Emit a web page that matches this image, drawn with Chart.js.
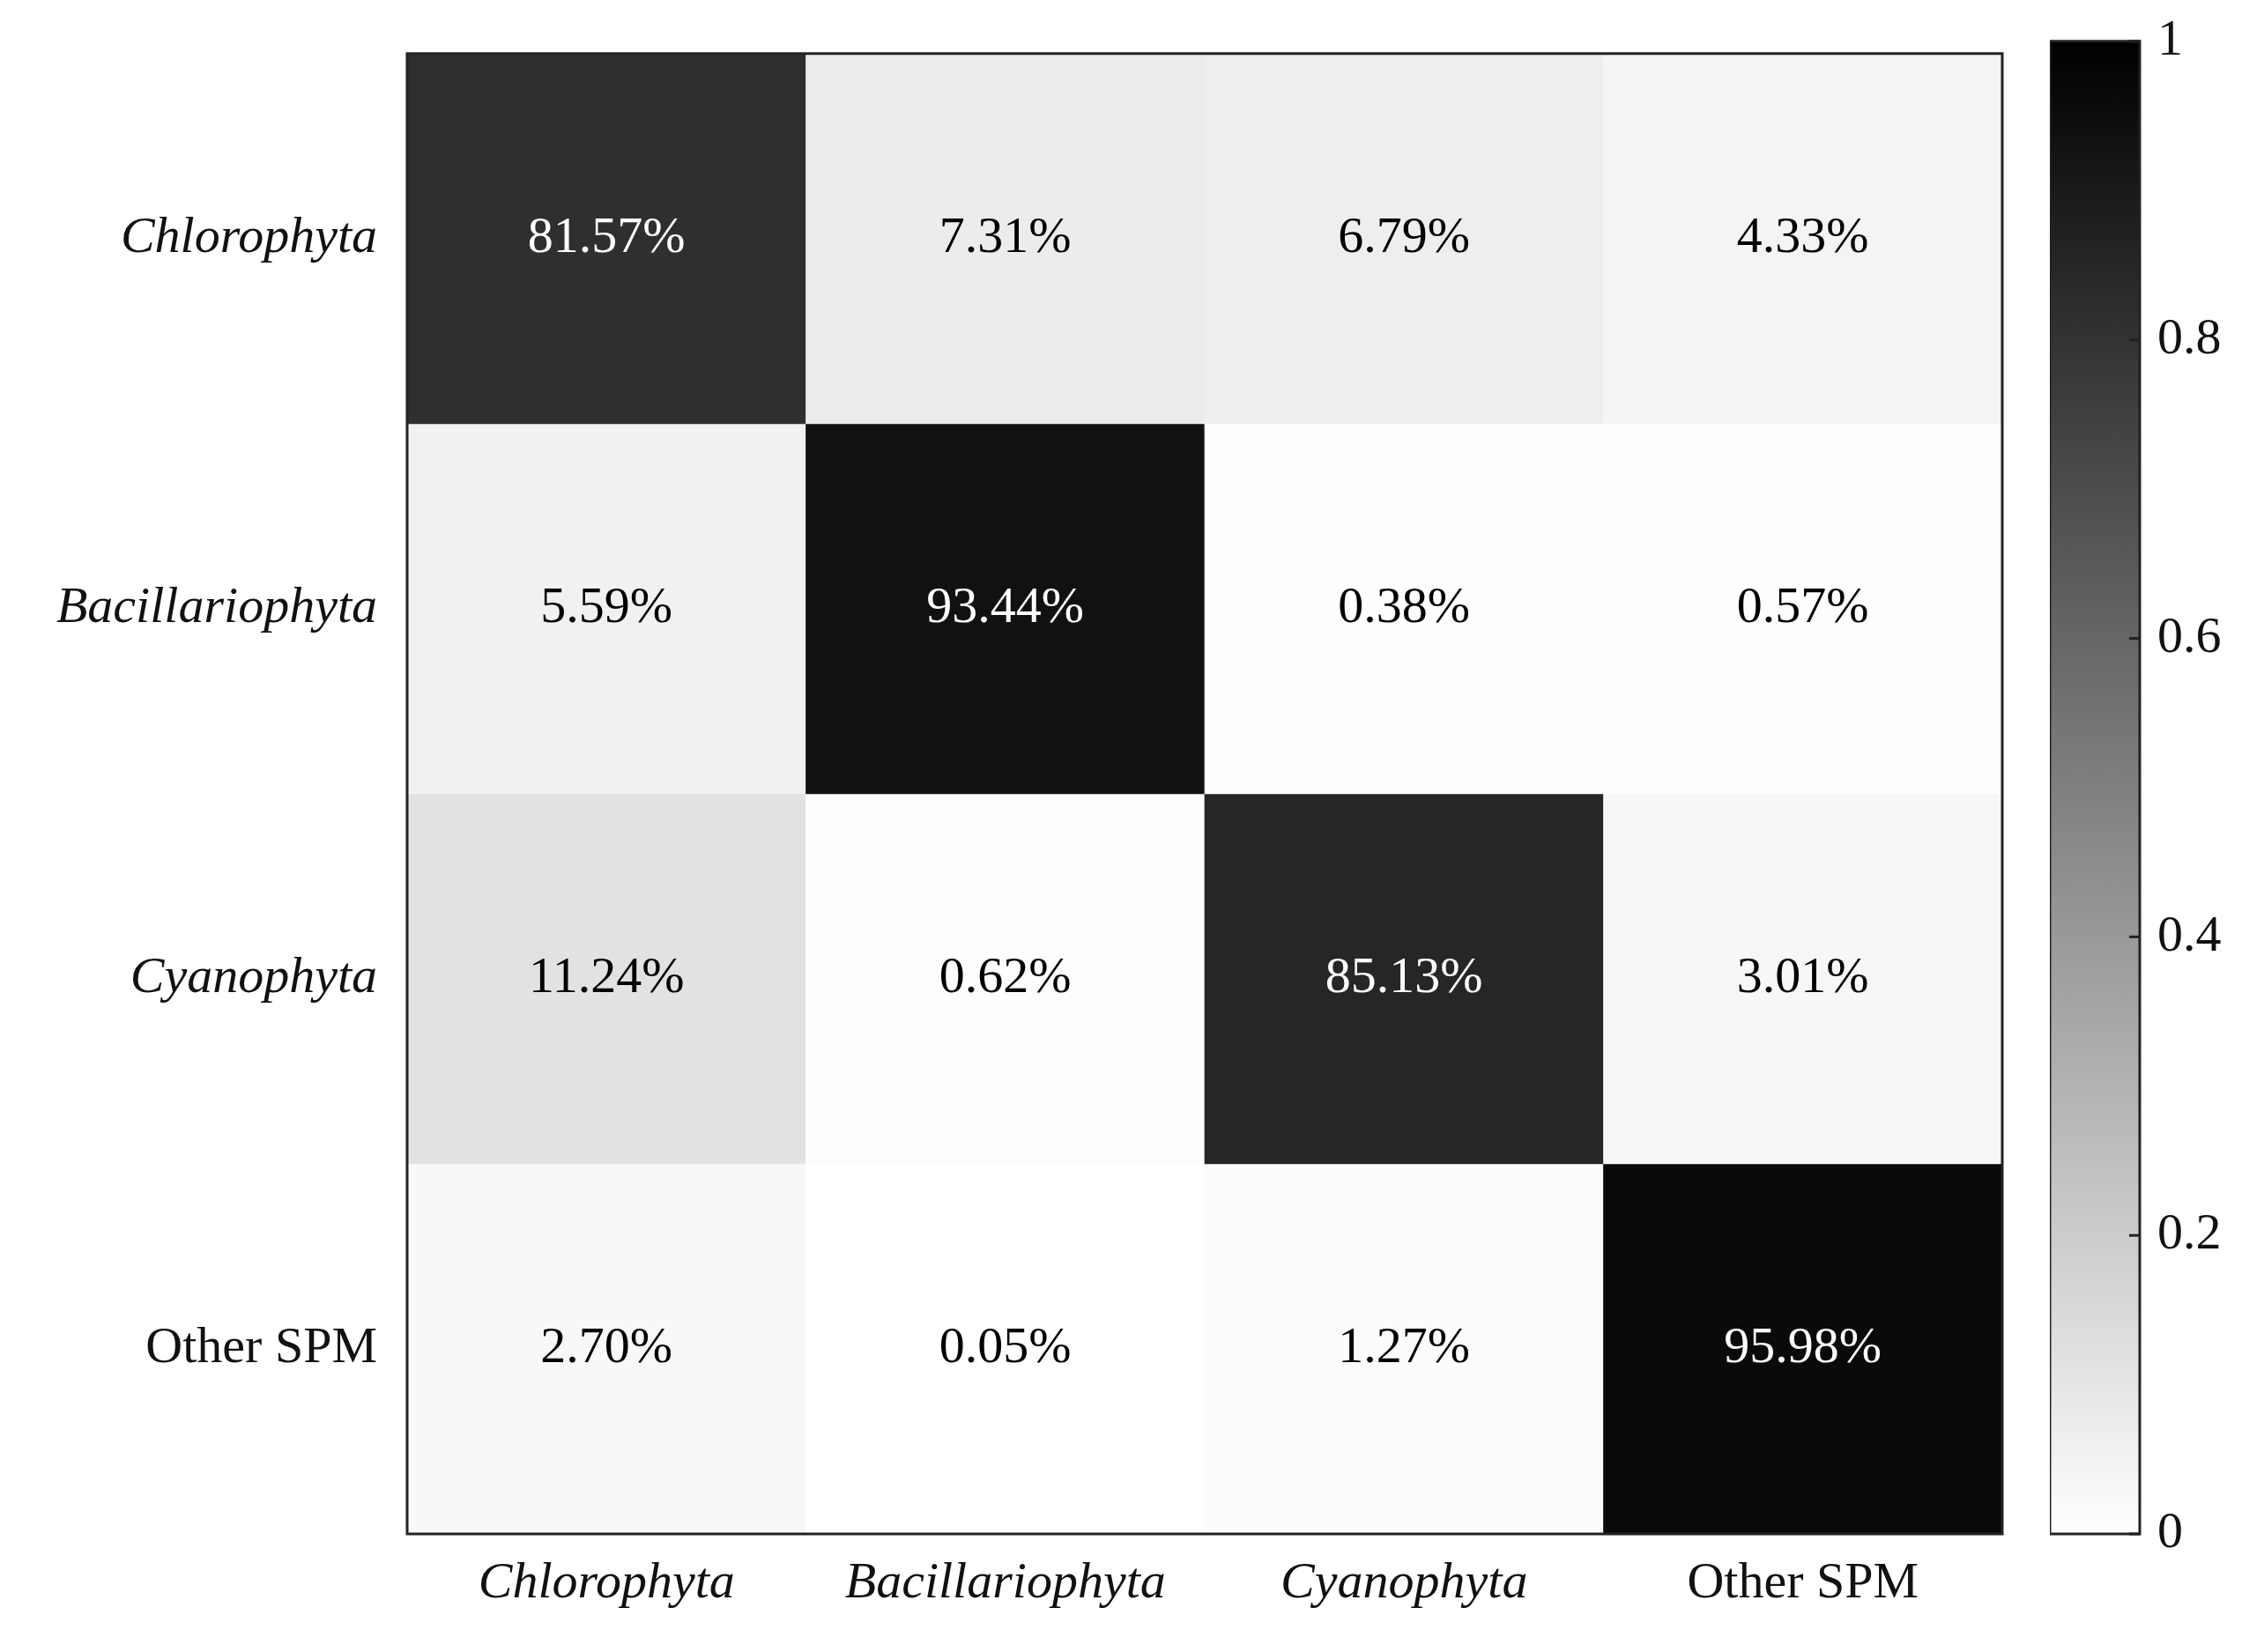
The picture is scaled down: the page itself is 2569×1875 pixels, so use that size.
<!DOCTYPE html>
<html><head><meta charset="utf-8">
<script src="https://cdn.jsdelivr.net/npm/chart.js@4"></script>
<style>body{margin:0;background:#fff;width:2569px;height:1875px;position:relative;overflow:hidden}
canvas{position:absolute;top:0}</style></head>
<body>
<div style="position:absolute;left:0;top:0;width:2300px;height:1875px"><canvas id="m"></canvas></div>
<div style="position:absolute;left:2326px;top:0;width:243px;height:1875px"><canvas id="c"></canvas></div>
<script>
const categories=['Chlorophyta','Bacillariophyta','Cyanophyta','Other SPM'];
const row0=[81.57,7.31,6.79,4.33];
const row1=[5.59,93.44,0.38,0.57];
const row2=[11.24,0.62,85.13,3.01];
const row3=[2.70,0.05,1.27,95.98];
const rows=[row0,row1,row2,row3];
const cbTicks=[0,0.2,0.4,0.6,0.8,1];
const FONT='"Liberation Serif", "DejaVu Serif", serif';
const gray=v=>{const g=Math.round(255*(1-v/100));return `rgb(${g},${g},${g})`;};
const italic=i=>i<3?'italic':'normal';
const border={id:'border',afterDraw(ch){const a=ch.chartArea,x=ch.ctx;x.save();x.strokeStyle='#222';x.lineWidth=3;x.strokeRect(a.left,a.top,a.right-a.left,a.bottom-a.top);x.restore();}};
const labels={id:'lbl',afterDatasetsDraw(ch){const x=ch.ctx;x.save();x.font='58px '+FONT;x.textAlign='center';x.textBaseline='middle';
 ch.data.datasets.forEach((ds,r)=>{ch.getDatasetMeta(r).data.forEach((b,c)=>{const v=rows[r][c];x.fillStyle=v>50?'#fff':'#000';x.fillText(v.toFixed(2)+'%',b.x,(b.y+b.base)/2);});});x.restore();}};
new Chart(document.getElementById('m'),{type:'bar',
 data:{labels:categories,datasets:rows.map((r,i)=>({data:r.map(()=>[i,i+1]),backgroundColor:r.map(gray),borderWidth:0,barPercentage:1,categoryPercentage:1,grouped:false}))},
 options:{responsive:true,maintainAspectRatio:false,animation:false,events:[],
  layout:{padding:{top:44,right:28,left:0,bottom:0}},
  plugins:{legend:{display:false},tooltip:{enabled:false}},
  scales:{
   x:{grid:{display:false},border:{display:false},afterFit(s){s.height=134;},
      ticks:{color:'#111',padding:14,font:c=>({family:FONT,size:58,style:italic(c.index)})}},
   y:{type:'linear',min:0,max:4,reverse:true,grid:{display:false},border:{display:false},
      afterFit(s){s.width=462;},
      afterBuildTicks(s){s.ticks=[0.5,1.5,2.5,3.5].map(v=>({value:v}));},
      ticks:{color:'#111',padding:26,callback:(v,i)=>categories[i],font:c=>({family:FONT,size:58,style:italic(c.index)})}}
  }},plugins:[labels,border]});
const cbTickMarks={id:'tm',afterDraw(ch){const a=ch.chartArea,x=ch.ctx,y=ch.scales.y;x.save();x.strokeStyle='#222';x.lineWidth=3;
 cbTicks.forEach(t=>{const p=y.getPixelForValue(t);x.beginPath();x.moveTo(a.right,p);x.lineTo(a.right-12,p);x.stroke();});x.restore();}};
new Chart(document.getElementById('c'),{type:'bar',
 data:{labels:['cb'],datasets:[{data:[[0,1]],borderWidth:0,barPercentage:1,categoryPercentage:1,
   backgroundColor(ctx){const ch=ctx.chart,a=ch.chartArea;if(!a)return '#888';const g=ch.ctx.createLinearGradient(0,a.bottom,0,a.top);g.addColorStop(0,'#fff');g.addColorStop(1,'#000');return g;}}]},
 options:{responsive:true,maintainAspectRatio:false,animation:false,events:[],
  layout:{padding:{top:44,bottom:134,left:0,right:0}},
  plugins:{legend:{display:false},tooltip:{enabled:false}},
  scales:{x:{display:false},
   y:{position:'right',min:0,max:1,grid:{display:false},border:{display:false},afterFit(s){s.width=141;},
      afterBuildTicks(s){s.ticks=cbTicks.map(v=>({value:v}));},
      ticks:{color:'#111',padding:12,callback:v=>String(v),font:{family:FONT,size:58}}}}},
 plugins:[border,cbTickMarks]});
</script></body></html>
